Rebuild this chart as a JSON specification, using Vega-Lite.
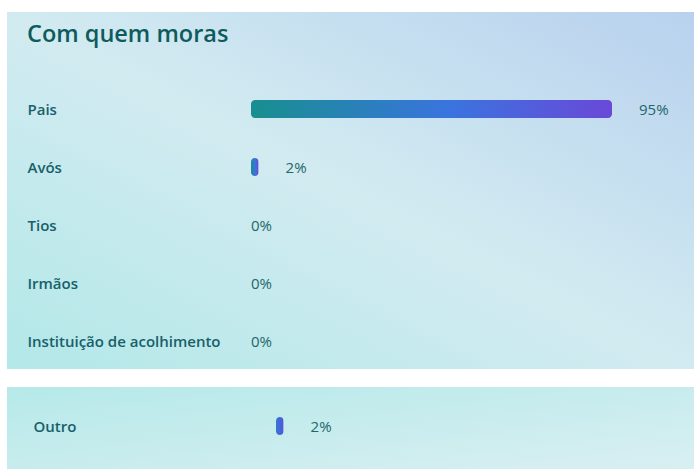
{
  "$schema": "https://vega.github.io/schema/vega-lite/v6.json",
  "padding": {"left": 7, "top": 12, "right": 0, "bottom": 0},
  "background": "#ffffff",
  "spacing": 18,
  "config": {"view": {"stroke": null}, "font": "Open Sans"},
  "vconcat": [
    {
      "width": 687,
      "height": 357,
      "view": {
        "stroke": null,
        "fill": {
          "gradient": "linear", "x1": 1, "y1": 0, "x2": 0, "y2": 1,
          "stops": [
            {"offset": 0, "color": "#b8d1ee"},
            {"offset": 0.5, "color": "#d2ebf1"},
            {"offset": 1, "color": "#b3e8e8"}
          ]
        }
      },
      "title": {
        "text": "Com quem moras",
        "anchor": "start",
        "frame": "group",
        "dx": 20,
        "offset": -53,
        "baseline": "alphabetic",
        "fontSize": 23.5,
        "fontWeight": 600,
        "color": "#0d5b5c",
        "font": "Open Sans"
      },
      "data": {
        "values": [
          {"cat": "Pais", "value": 0.95},
          {"cat": "Avós", "value": 0.02},
          {"cat": "Tios", "value": 0},
          {"cat": "Irmãos", "value": 0},
          {"cat": "Instituição de acolhimento", "value": 0}
        ]
      },
      "encoding": {
        "y": {
          "field": "cat", "type": "nominal", "sort": null,
          "scale": {"type": "band", "range": [68, 358], "paddingInner": 0, "paddingOuter": 0},
          "axis": {
            "title": null, "orient": "left", "offset": -20, "labelAlign": "left",
            "labelPadding": 0, "labelOffset": 1, "ticks": false, "tickSize": 0, "domain": false, "grid": false,
            "labelFontSize": 15, "labelColor": "#17606a", "labelFont": "Open Sans",
            "labelFontWeight": 600, "labelLimit": 300
          }
        }
      },
      "layer": [
        {
          "mark": {
            "type": "bar", "height": 18, "cornerRadius": 4,
            "color": {
              "gradient": "linear", "x1": 0, "y1": 0, "x2": 1, "y2": 0,
              "stops": [
                {"offset": 0, "color": "#178f8f"},
                {"offset": 0.55, "color": "#3a74de"},
                {"offset": 1, "color": "#6a48d8"}
              ]
            }
          },
          "encoding": {
            "x": {"field": "value", "type": "quantitative", "scale": {"domain": [0, 1], "range": [244, 624]}, "axis": null}
          }
        },
        {
          "transform": [{"filter": "datum.value > 0"}],
          "mark": {"type": "text", "align": "left", "baseline": "middle", "dx": 27, "dy": 1, "fontSize": 15, "fontWeight": 500, "color": "#1d6768", "font": "Open Sans"},
          "encoding": {
            "x": {"field": "value", "type": "quantitative"},
            "text": {"field": "value", "type": "quantitative", "format": ".0%"}
          }
        },
        {
          "transform": [{"filter": "datum.value == 0"}],
          "mark": {"type": "text", "align": "left", "baseline": "middle", "dx": 0, "dy": 1, "fontSize": 15, "fontWeight": 500, "color": "#1d6768", "font": "Open Sans"},
          "encoding": {
            "x": {"field": "value", "type": "quantitative"},
            "text": {"field": "value", "type": "quantitative", "format": ".0%"}
          }
        }
      ]
    },
    {
      "width": 687,
      "height": 82,
      "view": {
        "stroke": null,
        "fill": {
          "gradient": "linear", "x1": 0, "y1": 0, "x2": 1, "y2": 1,
          "stops": [
            {"offset": 0, "color": "#b6e9e9"},
            {"offset": 1, "color": "#d9eff2"}
          ]
        }
      },
      "data": {"values": [{"cat": "Outro", "value": 0.02}]},
      "encoding": {
        "y": {
          "field": "cat", "type": "nominal", "sort": null,
          "scale": {"type": "band", "range": [10, 68], "paddingInner": 0, "paddingOuter": 0},
          "axis": {
            "title": null, "orient": "left", "offset": -26, "labelAlign": "left",
            "labelPadding": 0, "labelOffset": 1, "ticks": false, "tickSize": 0, "domain": false, "grid": false,
            "labelFontSize": 15, "labelColor": "#17606a", "labelFont": "Open Sans",
            "labelFontWeight": 600, "labelLimit": 300
          }
        }
      },
      "layer": [
        {
          "mark": {
            "type": "bar", "height": 18, "cornerRadius": 4,
            "color": {
              "gradient": "linear", "x1": 0, "y1": 0, "x2": 1, "y2": 0,
              "stops": [
                {"offset": 0, "color": "#2f7bd6"},
                {"offset": 1, "color": "#5a52d8"}
              ]
            }
          },
          "encoding": {
            "x": {"field": "value", "type": "quantitative", "scale": {"domain": [0, 1], "range": [269, 649]}, "axis": null}
          }
        },
        {
          "mark": {"type": "text", "align": "left", "baseline": "middle", "dx": 27, "dy": 1, "fontSize": 15, "fontWeight": 500, "color": "#1d6768", "font": "Open Sans"},
          "encoding": {
            "x": {"field": "value", "type": "quantitative"},
            "text": {"field": "value", "type": "quantitative", "format": ".0%"}
          }
        }
      ]
    }
  ]
}
